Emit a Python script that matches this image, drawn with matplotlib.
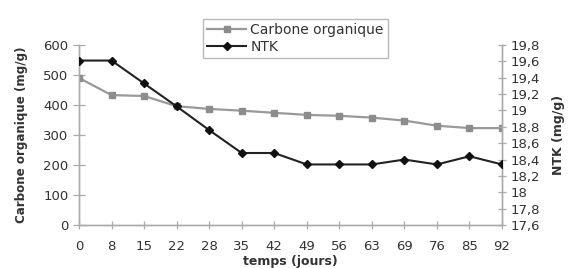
import matplotlib
matplotlib.use("Agg")
import matplotlib.pyplot as plt
from matplotlib.lines import Line2D

plt.rcParams['font.family'] = ['DejaVu Sans']

jours = ["0", "8", "15", "22", "28", "35", "42", "49", "56", "63", "69", "76", "85", "92"]
carbone = [490, 433, 430, 396, 387, 381, 374, 367, 364, 358, 348, 331, 323, 323]
ntk = [19.61, 19.61, 19.33, 19.05, 18.76, 18.48, 18.48, 18.34, 18.34, 18.34, 18.40, 18.34, 18.44, 18.34]

left_ticks = [0, 100, 200, 300, 400, 500, 600]
right_ticks = [17.6, 17.8, 18.0, 18.2, 18.4, 18.6, 18.8, 19.0, 19.2, 19.4, 19.6, 19.8]
right_labels = ["17,6", "17,8", "18", "18,2", "18,4", "18,6", "18,8", "19", "19,2", "19,4", "19,6", "19,8"]

axis_col = "#aaaaaa"
txt_col = "#333333"

fig = plt.figure(figsize=(5.7, 2.68), dpi=100)
ax = fig.add_axes([79/570, 1-225/268, (502-79)/570, 180/268])
ax2 = ax.twinx()

x = list(range(len(jours)))
ax.plot(x, carbone, color="#999999", lw=1.6, marker="s", ms=4.5,
        mfc="#8c8c8c", mec="#8c8c8c", zorder=3)
ax2.plot(x, ntk, color="#222222", lw=1.5, marker="D", ms=4,
         mfc="#111111", mec="#111111", zorder=3)

ax.set_xlim(0, len(jours)-1)
ax.set_ylim(0, 600)
ax2.set_ylim(17.6, 19.8)
ax.set_xticks(x)
ax.set_xticklabels(jours)
ax.set_yticks(left_ticks)
ax2.set_yticks(right_ticks)
ax2.set_yticklabels(right_labels)

for a in (ax, ax2):
    a.spines['top'].set_visible(False)
    for s in ('left', 'right', 'bottom'):
        a.spines[s].set_color(axis_col)
        a.spines[s].set_linewidth(1.0)
    a.patch.set_visible(False)

ax.tick_params(axis='y', direction='inout', length=9, width=0.9, color=axis_col,
               labelsize=9.5, labelcolor=txt_col, pad=3)
ax.tick_params(axis='x', direction='inout', length=6, width=0.9, color=axis_col,
               labelsize=9.5, labelcolor=txt_col, pad=8)
ax2.tick_params(axis='y', direction='inout', length=6, width=0.9, color=axis_col,
                labelsize=9.5, labelcolor=txt_col, pad=3)

ax.set_ylabel("Carbone organique (mg/g)", fontsize=8.6, fontweight='bold',
              color=txt_col, labelpad=11)
ax2.set_ylabel("NTK (mg/g)", fontsize=9, fontweight='bold', color=txt_col,
               labelpad=9)
ax.set_xlabel("temps (jours)", fontsize=9, fontweight='bold', color=txt_col,
              labelpad=1)

handles = [
    Line2D([], [], color="#999999", lw=1.6, marker="s", ms=4.5,
           mfc="#8c8c8c", mec="#8c8c8c"),
    Line2D([], [], color="#222222", lw=1.5, marker="D", ms=4,
           mfc="#111111", mec="#111111"),
]
leg = fig.legend(handles, ["Carbone organique", "NTK"], loc="upper left",
                 bbox_to_anchor=(203/570, 1-19/268), fontsize=10,
                 frameon=True, fancybox=False, edgecolor="#aaaaaa",
                 handlelength=2.8, handletextpad=0.3, borderpad=0.3,
                 labelspacing=0.2, borderaxespad=0)
leg.get_frame().set_linewidth(1.0)
for t in leg.get_texts():
    t.set_color(txt_col)

fig.savefig("out.png", dpi=100)
